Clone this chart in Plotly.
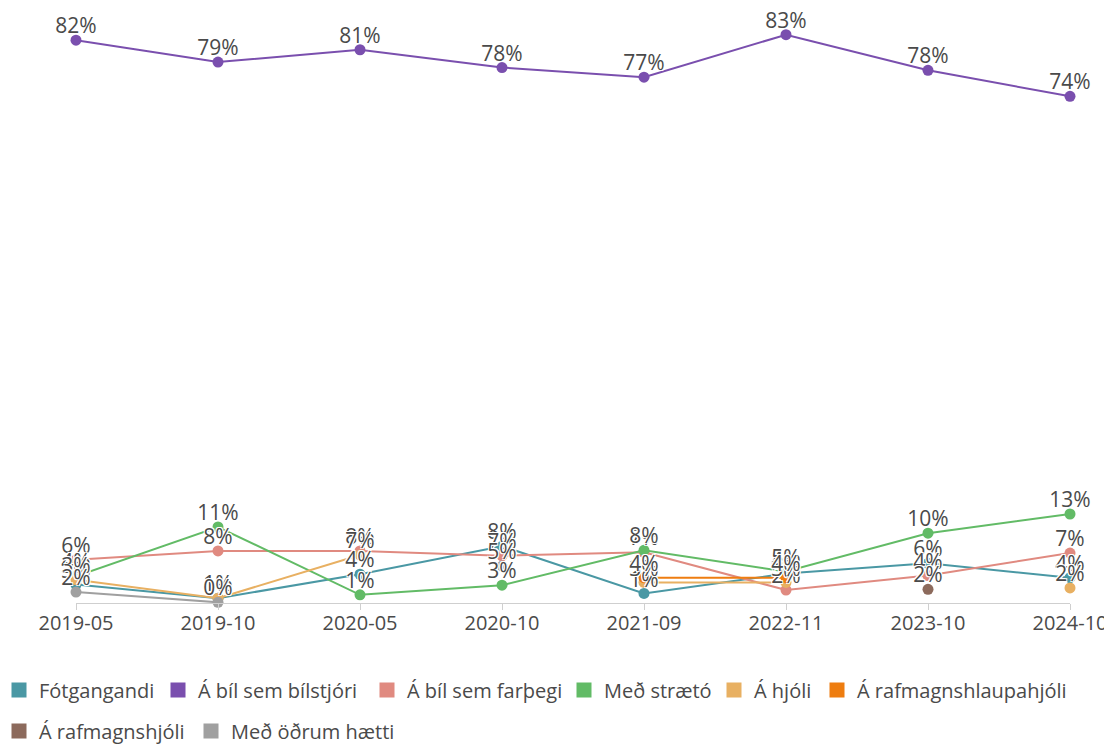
import plotly.graph_objects as go

categories = ["2019-05", "2019-10", "2020-05", "2020-10", "2021-09", "2022-11", "2023-10", "2024-10"]

fotgangandi = [2.7, 0.7, 4.2, 8.3, 1.4, 4.3, 5.8, 3.7]
bilstjori = [82.2, 79.0, 80.8, 78.2, 76.8, 83.0, 77.8, 74.0]
farthegi = [6.3, 7.6, 7.6, 6.9, 7.4, 1.9, 4.0, 7.3]
straeto = [3.9, 11.1, 1.2, 2.6, 7.7, 4.6, 10.2, 13.0]
hjoli = [3.4, 0.7, 7.0, None, 3.0, 3.0, None, 2.2]
rafhlaupahjoli = [None, None, None, None, 3.7, 3.7, None, None]
rafhjoli = [None, None, None, None, None, None, 2.0, None]
odrum = [1.6, 0.1, None, 5.4, None, None, None, None]

series_names = ["Fótgangandi", "Á bíl sem bílstjóri", "Á bíl sem farþegi", "Með strætó",
                "Á hjóli", "Á rafmagnshlaupahjóli", "Á rafmagnshjóli", "Með öðrum hætti"]
series_values = [fotgangandi, bilstjori, farthegi, straeto, hjoli, rafhlaupahjoli, rafhjoli, odrum]
series_colors = ["#4a98a4", "#7a4fae", "#e08a80", "#62bb66", "#e8b062", "#ee7d10", "#8c6a5c", "#a0a0a0"]

# legend layout: (page x where the entry text starts, page y of row centre)
legend_pos = [(39, 690), (198, 690), (407, 690), (604, 690), (754, 690), (857, 690),
              (39, 731), (231, 731)]

FONT = "Open Sans"
TXT = "#4a4a4a"

# the page body adds an 8px margin round the figure
OFF = 8
W, H = 1112 - OFF, 744 - OFF
left, right = 76 - OFF, 1070 - OFF
plot_bottom = 603 - OFF
plot_top = 13
PW = right - left

fig = go.Figure()

# lines and markers
for name, vals, color in zip(series_names, series_values, series_colors):
    fig.add_trace(go.Scatter(
        x=categories, y=vals, mode="lines+markers", name=name,
        line=dict(color=color, width=2),
        marker=dict(color=color, size=11),
        showlegend=False, cliponaxis=False, connectgaps=False,
        hovertemplate="%{x}: %{y:.0f}%<extra>" + name + "</extra>",
    ))

# data labels on top of everything
halo = "-1px -1px 0 #fff, 1px -1px 0 #fff, -1px 1px 0 #fff, 1px 1px 0 #fff"
for name, vals, color in zip(series_names, series_values, series_colors):
    texts = [None if v is None else f"{round(v)}%" for v in vals]
    fig.add_trace(go.Scatter(
        x=categories, y=vals, mode="markers+text", text=texts,
        marker=dict(size=1, opacity=0),
        textposition="top center",
        textfont=dict(family=FONT, size=21, color=TXT, shadow=halo),
        showlegend=False, cliponaxis=False, hoverinfo="skip",
    ))

# legend entries (square symbols), one legend per entry so each sits where the reference has it
legend_layouts = {}
for i, (name, color, (tx, ty)) in enumerate(zip(series_names, series_colors, legend_pos)):
    key = "legend" if i == 0 else f"legend{i + 1}"
    fig.add_trace(go.Scatter(
        x=[None], y=[None], mode="markers", name=name,
        marker=dict(color=color, size=15, symbol="square"),
        legend=key, showlegend=True,
    ))
    legend_layouts[key] = dict(
        orientation="h", xanchor="left", yanchor="middle",
        xref="paper", yref="container",
        x=(tx - OFF - 40 - left) / PW, y=1 - (ty - OFF) / H,
        font=dict(family=FONT, size=20, color=TXT),
        bgcolor="rgba(0,0,0,0)", borderwidth=0,
    )

fig.update_layout(
    width=W, height=H,
    margin=dict(l=left, r=W - right, t=plot_top, b=H - plot_bottom, autoexpand=False),
    paper_bgcolor="white", plot_bgcolor="white",
    font=dict(family=FONT, color=TXT),
    xaxis=dict(
        type="category", range=[0, 7], showgrid=False, zeroline=False,
        showline=True, linecolor="#cfcfcf", linewidth=1,
        ticks="outside", ticklen=6, tickcolor="#cfcfcf",
        ticklabelstandoff=-4,
        tickfont=dict(family=FONT, size=20, color=TXT),
        automargin=False,
    ),
    yaxis=dict(visible=False, range=[0, 85], fixedrange=True),
    showlegend=True,
    **legend_layouts,
)

fig.write_html("out.html")
